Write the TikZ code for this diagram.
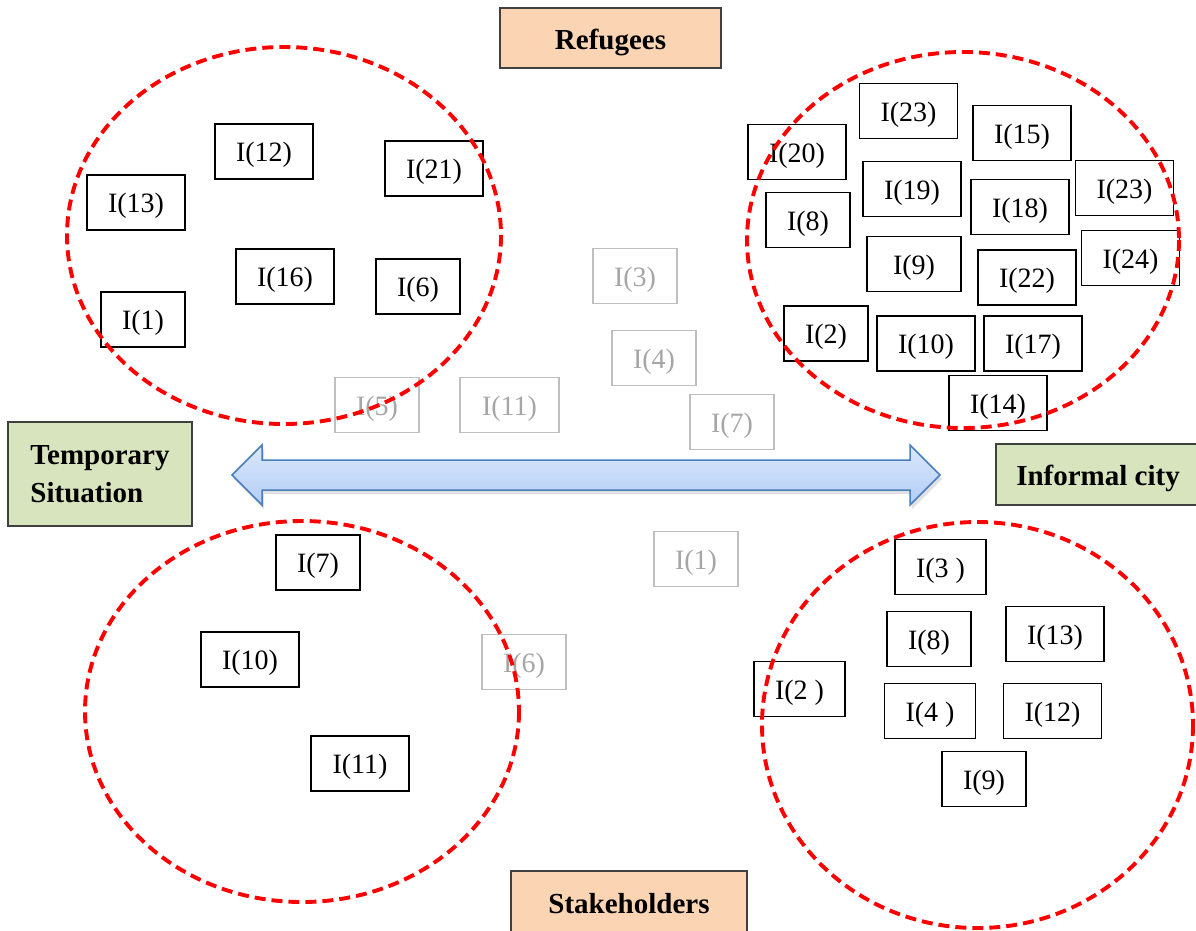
\documentclass[tikz,border=0pt]{standalone}
\usepackage{fontspec}
\setmainfont{Liberation Serif}
\definecolor{dashred}{HTML}{FF0000}
\definecolor{peach}{HTML}{FBD4B4}
\definecolor{sage}{HTML}{D7E4BD}
\definecolor{framegray}{HTML}{404040}
\definecolor{fadeline}{HTML}{BFBFBF}
\definecolor{fadetext}{HTML}{A6A6A6}
\definecolor{arrowtop}{HTML}{DCE8FC}
\definecolor{arrowbot}{HTML}{B2CDF6}
\definecolor{arrowedge}{HTML}{4A7EBB}
\begin{document}
\begin{tikzpicture}[x=1pt,y=-1pt,
  ibox/.style={draw=black, line width=1.3pt, fill=white, minimum width=98pt,
    minimum height=55pt, inner sep=0pt, text height=24pt, text depth=3.6pt,
    font=\fontsize{28}{32}\selectfont},
  inarrow/.style={ibox, minimum width=84pt},
  inmid/.style={ibox, minimum width=91pt},
  faded/.style={draw=fadeline, text=fadetext, line width=1.3pt},
  labelbox/.style={draw=framegray, line width=1.3pt, inner sep=0pt,
    font=\fontsize{29}{38}\selectfont\bfseries},
  onelabel/.style={labelbox, text height=26pt, text depth=4pt},
  cluster/.style={draw=dashred, line width=3.9pt, dash pattern=on 11pt off 6pt}
]
\useasboundingbox (0,0) rectangle (1196,930);

% heading boxes
\node[onelabel, fill=peach, minimum width=221pt, minimum height=60pt] (refugees) at (610.5,38) {Refugees};
\node[onelabel, fill=peach, minimum width=236pt, minimum height=62pt] (stakeholders) at (629,902) {Stakeholders};
\node[labelbox, fill=sage, minimum width=184pt, minimum height=104pt, align=left] (temporary) at (100,474) {Temporary\\Situation};
\node[onelabel, fill=sage, minimum width=204pt, minimum height=61pt] (informal) at (1098,474.5) {Informal city};

% double-headed block arrow with a soft shadow
\fill[black, opacity=0.12] (234,479) -- (264,449) -- (264,464) -- (912,464) -- (912,449) -- (942,479)
  -- (912,509) -- (912,494) -- (264,494) -- (264,509) -- cycle;
\shade[top color=arrowtop, bottom color=arrowbot, draw=arrowedge, line width=1.5pt, line join=miter]
  (232,475) -- (262,445) -- (262,460) -- (910,460) -- (910,445) -- (940,475)
  -- (910,505) -- (910,490) -- (262,490) -- (262,505) -- cycle;

% top-left group
\node[ibox] (a12) at (264,151.5) {I(12)};
\node[ibox] (a21) at (434,168.5) {I(21)};
\node[ibox] (a13) at (136,202.5) {I(13)};
\node[ibox] (a16) at (285,276.5) {I(16)};
\node[inarrow] (a6) at (418,286.5) {I(6)};
\node[inarrow] (a1) at (143,319.5) {I(1)};

% faded items between the groups
\node[inarrow, faded] (g3) at (635,276) {I(3)};
\node[inarrow, faded] (g4) at (654,358) {I(4)};
\node[inarrow, faded] (g5) at (377,405) {I(5)};
\node[ibox, faded, minimum width=99pt] (g11) at (509.5,405) {I(11)};
\node[inarrow, faded] (g7) at (732,422) {I(7)};
\node[inarrow, faded] (g1) at (696,559) {I(1)};
\node[inarrow, faded] (g6) at (524,662) {I(6)};

% top-right group
\node[ibox] (b23a) at (908.5,111) {I(23)};
\node[ibox] (b15) at (1022,133) {I(15)};
\node[ibox] (b20) at (797,152) {I(20)};
\node[ibox] (b19) at (912,189) {I(19)};
\node[ibox] (b18) at (1020,207) {I(18)};
\node[ibox] (b23b) at (1124.5,188) {I(23)};
\node[inarrow] (b8) at (808,220) {I(8)};
\node[ibox, minimum width=94pt] (b9) at (914,264) {I(9)};
\node[ibox] (b22) at (1027,277.5) {I(22)};
\node[ibox] (b24) at (1130.5,258) {I(24)};
\node[inarrow] (b2) at (826,333.5) {I(2)};
\node[ibox] (b10) at (926,343.5) {I(10)};
\node[ibox] (b17) at (1033,343.5) {I(17)};
\node[ibox] (b14) at (998,403) {I(14)};

% bottom-left group
\node[inarrow] (c7) at (318,562.5) {I(7)};
\node[ibox] (c10) at (250,659.5) {I(10)};
\node[ibox] (c11) at (360,763.5) {I(11)};

% bottom-right group
\node[inmid] (d3) at (940.5,567) {I(3 )};
\node[inarrow] (d8) at (929,639) {I(8)};
\node[ibox] (d13) at (1055,634) {I(13)};
\node[inmid] (d2) at (799.5,689) {I(2 )};
\node[inmid] (d4) at (930,711) {I(4 )};
\node[ibox] (d12) at (1052.5,711) {I(12)};
\node[inarrow] (d9) at (984,779) {I(9)};

% dashed cluster outlines, drawn over the boxes
\draw[cluster] (284,235.5) ellipse [x radius=217, y radius=188.5];
\draw[cluster] (963,240) ellipse [x radius=216, y radius=188];
\draw[cluster] (302,711.5) ellipse [x radius=217, y radius=190.5];
\draw[cluster] (977.5,725) ellipse [x radius=215.5, y radius=203];
\end{tikzpicture}
\end{document}
